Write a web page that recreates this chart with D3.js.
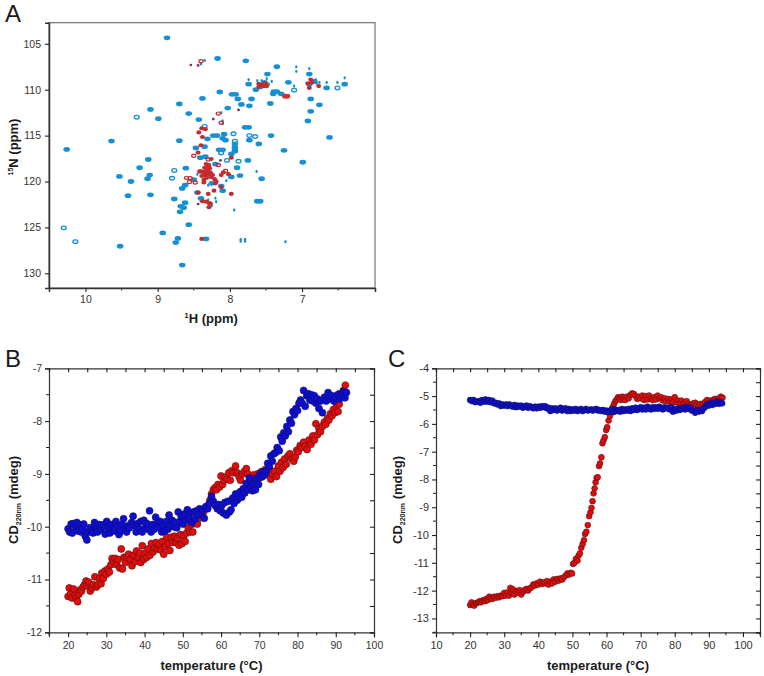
<!DOCTYPE html>
<html><head><meta charset="utf-8">
<script src="https://cdn.jsdelivr.net/npm/d3@7"></script>
<style>
html,body{margin:0;padding:0;background:#fff;}
svg{display:block;font-family:"Liberation Sans",Arial,sans-serif;}
</style></head><body>
<svg id="fig" width="764" height="676" viewBox="0 0 764 676"></svg>
<script>
// ---------- Panel A: peak positions [1H ppm, 15N ppm] ----------
const bluePeaks=[[8.87,104.35],[8.17,106.6],[7.78,106.85],[7.35,107.5],[6.9,108.3],[7.48,108.3],[7.19,109.2],[7.74,109.4],[6.66,109.8],[6.41,109.4],[7.64,110],[7.58,109.7],[7.39,110.2],[7.35,110.2],[7.4,110.45],[7.29,110.45],[8.14,110.25],[7.97,110.5],[7.92,110.5],[7.89,111],[7.7,111],[8.38,110.95],[8.7,111.55],[7.84,111.6],[7.73,111.75],[7.44,111.5],[8.03,112],[9.1,112.15],[6.88,111],[6.76,111.65],[6.88,112.35],[8.57,112.6],[8.99,113.15],[8.43,113.25],[6.92,113.4],[7.79,114.1],[7.74,114.1],[6.62,115.2],[7.43,115],[7.73,115.5],[7.6,115.9],[8.08,114.85],[8.23,115],[8.18,115],[8.31,115.35],[8.1,115.3],[8.06,115.5],[8.7,115.55],[9.64,115.6],[7.93,115.9],[7.93,116.3],[7.93,116.7],[10.26,116.5],[7.25,116.6],[6.99,117.9],[8.35,116.2],[8.47,116.35],[8.15,116.55],[8.1,116.55],[7.98,117],[9.13,117.6],[8.41,117.4],[8.34,117.3],[7.75,117.7],[7.9,118.5],[9.25,118.5],[8.61,118.55],[9.11,119.3],[9.53,119.45],[9.14,119.7],[9.37,120],[7.86,119.35],[7.56,119.7],[7.98,119.5],[8.66,120.75],[8.62,120.4],[9.1,121.45],[9.41,121.55],[8.77,121.9],[8.4,121.85],[7.62,122.15],[7.58,122.15],[8.62,122.3],[8.68,122.7],[8.64,122.85],[8.69,123.3],[8.57,124.7],[8.93,125.6],[8.72,126.2],[8.75,126.65],[8.33,126.25],[9.52,127.05],[8.66,129.1],[8.12,120.5],[8.25,120.2],[8.45,121.2],[8.5,119.8],[8.2,118.1],[8.1,121],[8.32,118.9],[7.52,109.2],[6.9,109.4],[6.83,109.1]];
const blueRings=[[9.29,113],[7.95,114.8],[7.65,115.1],[7.73,115],[8.12,116.9],[8.04,117.7],[7.88,117.8],[8.77,118.8],[8.8,119.65],[10.3,125.05],[10.14,126.55],[7.11,110.05],[6.51,109.8],[7.93,115.6],[7.93,116.5],[8.35,114]];
const blueSmall=[[7.08,107.5],[7.08,108],[6.9,107.7],[7.74,108.9],[7.49,108.8],[6.66,109.2],[6.51,109.2],[6.41,108.7],[7.11,109.6],[6.81,108.9],[6.8,109.3],[6.76,109.2],[7.42,109.1],[7.46,109.4],[7.56,109],[7.62,109],[8.19,122.2],[7.94,123.1],[7.63,118.9],[7.23,126.55],[7.85,126.3],[7.85,126.5],[7.79,126.3],[7.79,126.5],[8.4,107.2],[8.35,106.8],[8.1,113.4],[8.1,113.7],[8.12,112.5],[8.3,122],[8.25,122.6],[8.2,121.8],[8.45,119.2],[8.05,119.9],[8.3,120.4]];
const redPeaks=[[7.6,109.7],[7.55,109.45],[7.51,109.3],[7.49,109.6],[7.6,109.35],[7.53,109.6],[6.92,109.3],[6.9,109.8],[6.77,109.6],[6.88,108.9],[6.86,109.2],[8.39,114.2],[8.34,114.3],[8.43,114.65],[8.38,115.15],[8.4,116.05],[8.44,116.85],[8.26,117.55],[7.98,117.4],[8.33,118.1],[8.29,118.2],[8.35,118.5],[8.28,118.55],[8.32,118.8],[8.37,118.95],[8.27,119],[8.3,119.2],[8.35,119.3],[8.39,119.4],[8.26,119.5],[8.32,119.6],[8.36,119.8],[8.21,119.75],[8.19,120],[8.09,119],[8.02,119.2],[8.12,119.3],[8.42,118.9],[8.3,121.35],[8.33,122.2],[8.38,122.15],[8.29,122.35],[8.27,122.4],[8.29,122.8],[7.98,121.35],[8.39,126.25],[8.44,121.2],[8.22,121],[8.12,120.6],[8.2,120.2],[8.31,118.4],[8.33,119.05],[8.24,119.3],[8.36,120.1]];
const redRings=[[8.4,106.9],[8.16,112.6],[8.12,113.6],[8.5,117.2],[8.16,118.2],[8.06,118.85],[8.3,117.6],[8.6,119.6],[8.55,119.65],[8.56,120.05],[8.48,120.1],[8.4,118.9]];
const redSmall=[[8.54,107.3],[8.44,107.35],[7.88,112.2],[8.23,113.2],[8.44,122.45],[8.13,117.7]];
const redLarge=[[7.23,110.7],[7.21,110.7]];

// ---------- Panel B ----------
const bRed=[[20,-11.32],[20.3,-11.16],[20.6,-11.28],[21,-11.35],[21.4,-11.18],[21.8,-11.3],[22.1,-11.35],[22.5,-11.42],[22.8,-11.28],[23.1,-11.2],[23.5,-11.22],[23.9,-11.14],[24.3,-11.1],[24.7,-11.03],[25,-11.12],[25.4,-11.05],[25.8,-11.22],[26.2,-11.16],[26.6,-11.1],[27,-10.95],[27.4,-11.14],[27.8,-11.1],[28.2,-10.98],[28.6,-11.08],[28.8,-10.88],[29.2,-10.98],[29.6,-10.84],[30,-10.9],[30.4,-10.8],[30.8,-10.86],[31.2,-10.72],[31.5,-10.6],[31.9,-10.66],[32.3,-10.6],[32.7,-10.72],[33.1,-10.62],[33.5,-10.78],[33.9,-10.42],[34.2,-10.8],[34.6,-10.58],[35,-10.68],[35.4,-10.58],[35.8,-10.52],[36.2,-10.62],[36.7,-10.74],[37.1,-10.54],[37.5,-10.66],[37.9,-10.46],[38.3,-10.58],[38.7,-10.5],[39,-10.68],[39.4,-10.36],[39.8,-10.62],[40.2,-10.5],[40.6,-10.58],[41,-10.42],[41.4,-10.54],[41.8,-10.32],[42.2,-10.48],[42.6,-10.4],[43,-10.3],[43.4,-10.42],[43.8,-10.34],[44.2,-10.44],[44.6,-10.28],[45,-10.52],[45.4,-10.38],[45.8,-10.2],[46.2,-10.32],[46.6,-10.45],[47,-10.2],[47.4,-10.3],[47.8,-10.18],[48.2,-10.3],[48.6,-10.22],[49,-10.35],[49.4,-10.15],[49.8,-10.32],[50.2,-10.18],[50.6,-10.28],[51,-10.12],[51.4,-10.02],[51.8,-10.1],[52.2,-9.96],[52.6,-10.1],[53,-9.94],[53.4,-9.88],[53.8,-9.95],[54.2,-9.84],[54.8,-9.78],[55.4,-9.72],[56,-9.66],[56.6,-9.6],[57.1,-9.5],[57.5,-9.38],[58,-9.3],[58.4,-9.26],[58.8,-9.3],[59.2,-9.2],[59.6,-9.25],[60,-9.04],[60.4,-9.2],[60.8,-9.12],[61.2,-9.06],[61.6,-9.1],[62,-8.98],[62.4,-9.12],[62.8,-8.94],[63.2,-8.98],[63.8,-8.85],[64.2,-8.98],[64.7,-9.05],[65.1,-9.12],[65.6,-9],[66.1,-8.95],[66.6,-8.9],[67,-9],[67.5,-9.15],[68,-9.08],[68.5,-9.02],[69,-9.1],[69.5,-9],[70,-9.08],[70.5,-8.96],[71,-9.04],[71.5,-8.92],[72,-8.98],[72.5,-8.88],[73,-9.1],[73.5,-9],[74,-8.95],[74.5,-9.05],[75,-8.85],[75.4,-8.95],[75.8,-8.78],[76.2,-8.88],[76.6,-8.72],[77,-8.82],[77.5,-8.66],[78,-8.62],[78.5,-8.72],[79,-8.76],[79.4,-8.68],[79.8,-8.55],[80.2,-8.58],[80.7,-8.46],[81.1,-8.5],[81.6,-8.4],[82,-8.48],[82.5,-8.54],[83,-8.36],[83.5,-8.44],[84,-8.28],[84.4,-8.36],[84.8,-8.05],[85.2,-8.26],[85.6,-8.14],[86,-8.2],[86.5,-8.1],[87,-8.02],[87.4,-8.06],[87.8,-7.95],[88.2,-7.98],[88.6,-7.86],[89,-7.9],[89.4,-7.78],[89.8,-7.84],[90.2,-7.68],[90.6,-7.82],[90.9,-7.68],[90.4,-7.52],[91,-7.48],[91.5,-7.5],[92,-7.42],[92.5,-7.32]];
const bBlue=[[20,-10.04],[20.4,-10.1],[20.8,-9.95],[21.1,-10.12],[21.5,-9.94],[21.9,-10],[22.3,-9.92],[22.6,-10.08],[23,-9.96],[23.4,-10.1],[23.8,-10.05],[24.1,-9.95],[24.5,-10.18],[24.9,-10.25],[25.3,-10.1],[25.7,-10.02],[26.1,-10.08],[26.5,-10.12],[26.9,-9.92],[27.3,-10],[27.7,-10.1],[28.1,-9.96],[28.5,-10.06],[28.9,-10],[29.3,-9.96],[29.7,-10.14],[30.1,-9.9],[30.5,-10.02],[30.9,-10.12],[31.3,-9.96],[31.7,-10.04],[32.1,-10.08],[32.5,-9.9],[32.9,-10],[33.3,-10.15],[33.7,-10.08],[34.1,-9.96],[34.5,-9.85],[34.9,-10.06],[35.3,-10.1],[35.7,-9.98],[36.1,-10.02],[36.6,-9.92],[37,-9.8],[37.4,-9.98],[37.8,-10.1],[38.2,-9.94],[38.6,-10.04],[39,-9.9],[39.4,-10.1],[39.8,-9.88],[40.2,-10.02],[40.6,-9.94],[41,-10.05],[41.3,-9.7],[41.7,-10.1],[42.1,-9.96],[42.5,-10.05],[42.9,-9.82],[43.3,-9.94],[43.7,-10.02],[44.1,-9.9],[44.5,-10.1],[44.9,-9.98],[45.3,-10.08],[45.7,-9.9],[46.1,-10.05],[46.4,-9.78],[46.8,-9.98],[47.2,-9.88],[47.6,-10],[48,-9.92],[48.4,-10.02],[48.8,-9.72],[49.2,-9.9],[49.6,-9.8],[50,-9.95],[50.4,-9.76],[50.8,-9.88],[51.2,-9.68],[51.6,-9.84],[52,-9.74],[52.4,-9.92],[52.8,-9.72],[53.2,-9.86],[53.6,-9.7],[54,-9.78],[54.4,-9.66],[54.8,-9.74],[55.2,-9.68],[55.6,-9.84],[56,-9.62],[56.5,-9.66],[57,-9.55],[57.5,-9.43],[58,-9.52],[58.5,-9.6],[59,-9.66],[59.4,-9.58],[59.8,-9.7],[60.2,-9.6],[60.6,-9.74],[61,-9.54],[61.4,-9.78],[61.8,-9.52],[62.2,-9.72],[62.6,-9.68],[63,-9.46],[63.4,-9.56],[63.8,-9.38],[64.2,-9.5],[64.6,-9.46],[65,-9.34],[65.4,-9.44],[65.8,-9.28],[66.2,-9.36],[66.6,-9.18],[67,-9.3],[67.4,-9.08],[67.8,-9.24],[68.2,-9.32],[68.6,-9.18],[69,-9.3],[69.4,-9.08],[69.8,-9.2],[70.2,-9],[70.6,-9.06],[71,-8.96],[71.4,-9.02],[71.8,-8.94],[72.2,-8.8],[72.6,-8.86],[73,-8.66],[73.4,-8.76],[73.8,-8.62],[74.2,-8.6],[74.7,-8.5],[75.2,-8.56],[75.6,-8.3],[76,-8.38],[76.4,-8.22],[76.8,-8.28],[77.2,-8.1],[77.6,-8.2],[78,-7.98],[78.4,-8.04],[78.8,-7.82],[79.2,-7.88],[79.6,-7.76],[80,-7.8],[80.4,-7.66],[80.8,-7.6],[81.2,-7.66],[81.6,-7.42],[82,-7.72],[82.4,-7.52],[82.8,-7.48],[83.2,-7.6],[83.6,-7.5],[84,-7.62],[84.4,-7.52],[84.8,-7.66],[85.2,-7.58],[85.6,-7.76],[86,-7.62],[86.5,-7.84],[87,-7.55],[87.5,-7.62],[88,-7.46],[88.5,-7.58],[89,-7.52],[89.5,-7.62],[90,-7.56],[90.5,-7.5],[91,-7.58],[91.5,-7.52],[92,-7.44],[92.4,-7.56],[92.8,-7.46]];

// ---------- Panel C ----------
const cRed=[[20,-12.52],[20.4,-12.42],[20.8,-12.5],[21.2,-12.54],[21.6,-12.46],[22,-12.44],[22.4,-12.42],[22.8,-12.38],[23.2,-12.42],[23.6,-12.36],[24,-12.34],[24.4,-12.38],[24.8,-12.3],[25.2,-12.34],[25.6,-12.22],[26,-12.28],[26.5,-12.3],[27,-12.22],[27.5,-12.26],[28,-12.2],[28.5,-12.24],[29,-12.18],[29.5,-12.2],[30,-12.08],[30.5,-12.18],[31,-12.06],[31.4,-12.18],[31.8,-11.9],[32.2,-12.08],[32.6,-11.96],[33,-12.14],[33.5,-12.02],[34,-12.08],[34.5,-11.98],[35,-12.14],[35.5,-12.04],[36,-11.98],[36.5,-11.94],[37,-12],[37.5,-11.92],[38,-11.88],[38.5,-11.78],[39,-11.82],[39.5,-11.74],[40,-11.78],[40.5,-11.68],[41,-11.76],[41.5,-11.7],[42,-11.74],[42.5,-11.66],[43,-11.78],[43.5,-11.68],[44,-11.74],[44.5,-11.6],[45,-11.68],[45.5,-11.58],[46,-11.64],[46.5,-11.56],[47,-11.6],[47.5,-11.52],[48,-11.46],[48.5,-11.38],[49,-11.42],[49.5,-11.36],[49.9,-11.38],[50.2,-11.04],[50.6,-11],[51,-10.86],[51.5,-10.92],[51.8,-10.74],[52.2,-10.66],[52.6,-10.46],[53,-10.32],[53.4,-10.18],[53.7,-9.96],[54.1,-9.88],[54.5,-9.64],[54.9,-9.32],[55.3,-9.18],[55.6,-9.02],[55.9,-8.78],[56.2,-8.5],[56.5,-8.32],[56.8,-8.1],[57.1,-7.94],[57.4,-7.92],[57.8,-7.52],[58.1,-7.42],[58.5,-7.2],[58.8,-6.7],[59.1,-6.6],[59.5,-6.48],[59.9,-6.22],[60.2,-6.12],[60.6,-5.88],[61,-5.72],[61.4,-5.5],[61.8,-5.4],[62.2,-5.28],[62.6,-5.18],[63,-5.12],[63.4,-5.04],[63.8,-5.08],[64.2,-5.14],[64.6,-5.02],[65,-5.1],[65.5,-5.14],[66,-5.02],[66.5,-5.08],[67,-4.96],[67.5,-4.9],[68,-4.92],[68.5,-5],[69,-5.1],[69.5,-5.02],[70,-5.08],[70.5,-4.98],[71,-5.14],[71.5,-5],[72,-5.12],[72.5,-4.98],[73,-5.08],[73.5,-5.14],[74,-5.04],[74.5,-5.12],[75,-4.98],[75.5,-5.08],[76,-5.04],[76.5,-5.16],[77,-5.08],[77.5,-5.18],[78,-5.1],[78.5,-5.2],[79,-5.12],[79.5,-5.22],[80,-5.04],[80.5,-5.22],[81,-5.16],[81.5,-5.26],[82,-5.16],[82.5,-5.28],[83,-5.22],[83.5,-5.18],[84,-5.28],[84.5,-5.34],[85,-5.3],[85.5,-5.26],[86,-5.24],[86.5,-5.3],[87,-5.36],[87.5,-5.28],[88,-5.32],[88.5,-5.26],[89,-5.2],[89.5,-5.14],[90,-5.22],[90.5,-5.16],[91,-5.18],[91.5,-5.12],[92,-5.1],[92.5,-5.14],[93,-5.08],[93.5,-5.02],[94,-5.06]];
const cBlue=[[20,-5.14],[20.5,-5.18],[21,-5.14],[21.5,-5.22],[22,-5.2],[22.5,-5.18],[23,-5.24],[23.5,-5.14],[24,-5.2],[24.5,-5.12],[25,-5.2],[25.5,-5.14],[26,-5.22],[26.5,-5.16],[27,-5.26],[27.5,-5.24],[28,-5.3],[28.5,-5.26],[29,-5.36],[29.5,-5.3],[30,-5.34],[30.5,-5.3],[31,-5.36],[31.5,-5.3],[32,-5.34],[32.5,-5.38],[33,-5.32],[33.5,-5.4],[34,-5.34],[34.5,-5.38],[35,-5.34],[35.5,-5.42],[36,-5.38],[36.5,-5.34],[37,-5.42],[37.5,-5.36],[38,-5.4],[38.5,-5.44],[39,-5.38],[39.5,-5.44],[40,-5.38],[40.5,-5.42],[41,-5.36],[41.5,-5.4],[42,-5.36],[42.5,-5.44],[43,-5.42],[43.5,-5.54],[44,-5.44],[44.5,-5.5],[45,-5.44],[45.5,-5.52],[46,-5.46],[46.5,-5.42],[47,-5.52],[47.5,-5.46],[48,-5.44],[48.5,-5.54],[49,-5.46],[49.5,-5.54],[50,-5.48],[50.5,-5.52],[51,-5.46],[51.5,-5.54],[52,-5.5],[52.5,-5.46],[53,-5.54],[53.5,-5.5],[54,-5.46],[54.5,-5.52],[55,-5.5],[55.5,-5.48],[56,-5.52],[56.5,-5.48],[57,-5.46],[57.5,-5.52],[58,-5.5],[58.5,-5.54],[59,-5.5],[59.5,-5.56],[60,-5.52],[60.5,-5.58],[61,-5.54],[61.5,-5.48],[62,-5.58],[62.5,-5.48],[63,-5.54],[63.5,-5.5],[64,-5.56],[64.5,-5.46],[65,-5.54],[65.5,-5.48],[66,-5.52],[66.5,-5.46],[67,-5.54],[67.5,-5.44],[68,-5.5],[68.5,-5.42],[69,-5.5],[69.5,-5.44],[70,-5.4],[70.5,-5.48],[71,-5.42],[71.5,-5.48],[72,-5.38],[72.5,-5.44],[73,-5.48],[73.5,-5.4],[74,-5.46],[74.5,-5.4],[75,-5.46],[75.5,-5.38],[76,-5.44],[76.5,-5.48],[77,-5.4],[77.5,-5.44],[78,-5.42],[78.5,-5.48],[79,-5.4],[79.5,-5.56],[80,-5.46],[80.5,-5.52],[81,-5.44],[81.5,-5.5],[82,-5.46],[82.5,-5.42],[83,-5.48],[83.5,-5.4],[84,-5.46],[84.5,-5.42],[85,-5.52],[85.5,-5.5],[86,-5.6],[86.5,-5.5],[87,-5.56],[87.5,-5.5],[88,-5.54],[88.5,-5.44],[89,-5.38],[89.5,-5.3],[90,-5.34],[90.5,-5.26],[91,-5.32],[91.5,-5.24],[92,-5.28],[92.5,-5.2],[93,-5.28],[93.5,-5.22],[93.9,-5.26]];

const aXTicks=[10,9,8,7], aXMinor=[9.5,8.5,7.5,6.5];
const aYTicks=[105,110,115,120,125,130];
const bXTicks=[20,30,40,50,60,70,80,90,100], bYTicks=[-7,-8,-9,-10,-11,-12];
const cXTicks=[10,20,30,40,50,60,70,80,90,100], cYTicks=[-4,-5,-6,-7,-8,-9,-10,-11,-12,-13];

const svg=d3.select("#fig");
const defs=svg.append("defs");
defs.append("filter").attr("id","soft").attr("x","-5%").attr("y","-5%").attr("width","110%").attr("height","110%")
  .append("feGaussianBlur").attr("stdDeviation",0.5);
defs.append("filter").attr("id","softer").attr("x","-5%").attr("y","-5%").attr("width","110%").attr("height","110%")
  .append("feGaussianBlur").attr("stdDeviation",0.35);

const INK="#333", TXT="#333";
function label(x,y,t,size,extra){
  return svg.append("text").attr("x",x).attr("y",y).attr("font-size",size).attr("fill",extra&&extra.fill||"#1a1a1a")
   .attr("font-weight",extra&&extra.weight||"normal").attr("text-anchor",extra&&extra.anchor||"start").text(t);
}
function styleAxis(g,fs,w){
  g.select(".domain").attr("stroke",INK).attr("stroke-width",w);
  g.selectAll("line").attr("stroke","#222").attr("stroke-width",1.1);
  g.selectAll("text").attr("font-size",fs).attr("fill",TXT).attr("font-family",'"Liberation Sans",Arial,sans-serif');
}

// ---------- Panel A ----------
(function(){
  const x=d3.scaleLinear().domain([10.505,5.99]).range([49,375]);
  const y=d3.scaleLinear().domain([102.7,131.6]).range([22.7,288]);
  svg.append("rect").attr("x",x.range()[0]).attr("y",y.range()[0]).attr("width",326).attr("height",265.3)
     .attr("fill","none").attr("stroke","#666").attr("stroke-width",1.1);
  const g=svg.append("g").attr("filter","url(#soft)");
  const BL="#1690d2", RD="#c42a2e";
  g.selectAll(".bp").data(bluePeaks).join("ellipse").attr("cx",d=>x(d[0])).attr("cy",d=>y(d[1])).attr("rx",3.3).attr("ry",2.4).attr("fill",BL);
  g.selectAll(".br").data(blueRings).join("ellipse").attr("cx",d=>x(d[0])).attr("cy",d=>y(d[1])).attr("rx",2.5).attr("ry",1.8).attr("fill","none").attr("stroke",BL).attr("stroke-width",1.3);
  g.selectAll(".bs").data(blueSmall).join("ellipse").attr("cx",d=>x(d[0])).attr("cy",d=>y(d[1])).attr("rx",1.2).attr("ry",1.6).attr("fill",BL);
  g.selectAll(".rp").data(redPeaks).join("ellipse").attr("cx",d=>x(d[0])).attr("cy",d=>y(d[1])).attr("rx",2.5).attr("ry",2.1).attr("fill",RD);
  g.selectAll(".rr").data(redRings).join("ellipse").attr("cx",d=>x(d[0])).attr("cy",d=>y(d[1])).attr("rx",2.1).attr("ry",1.6).attr("fill","none").attr("stroke",RD).attr("stroke-width",1.2);
  g.selectAll(".rs").data(redSmall).join("ellipse").attr("cx",d=>x(d[0])).attr("cy",d=>y(d[1])).attr("rx",1.4).attr("ry",1.3).attr("fill","#8a2a55");
  g.selectAll(".rl").data(redLarge).join("ellipse").attr("cx",d=>x(d[0])).attr("cy",d=>y(d[1])).attr("rx",3.4).attr("ry",2.4).attr("fill","#d0302c");

  const xa=svg.append("g").attr("transform","translate(0,288)").call(d3.axisBottom(x).tickValues(aXTicks).tickFormat(d3.format("d")).tickSize(4).tickPadding(4));
  styleAxis(xa,10.5,1.5);
  xa.selectAll(".mn").data(aXMinor).join("line").attr("class","mn").attr("x1",d=>x(d)).attr("x2",d=>x(d)).attr("y1",0).attr("y2",2.5).attr("stroke","#333");
  const ya=svg.append("g").attr("transform","translate(49,0)").call(d3.axisLeft(y).tickValues(aYTicks).tickFormat(d3.format("d")).tickSize(4).tickPadding(4));
  styleAxis(ya,10.5,1.5);
  const t1=label(211,323,"",13,{weight:"bold",anchor:"middle"});
  t1.append("tspan").attr("font-size",8).attr("dy",-5).text("1");
  t1.append("tspan").attr("dy",5).text("H (ppm)");
  const t2=svg.append("text").attr("transform","translate(18,147) rotate(-90)").attr("text-anchor","middle").attr("font-weight","bold").attr("font-size",13).attr("fill","#1a1a1a");
  t2.append("tspan").attr("font-size",7).attr("dy",-5).text("15");
  t2.append("tspan").attr("dy",5).text("N (ppm)");
  label(5,22,"A",24);
})();

// ---------- Panels B / C ----------
function cdPanel(o){
  const x=d3.scaleLinear().domain(o.xd).range([o.l,o.r]);
  const y=d3.scaleLinear().domain(o.yd).range([368.3,632.3]);
  const g=svg.append("g").attr("filter","url(#softer)");
  [[o.red,"#e00a0c"],[o.blue,"#0a0ad6"]].forEach(([data,col])=>{
    g.append("g").selectAll("circle").data(data).join("circle").attr("cx",d=>x(d[0])).attr("cy",d=>y(d[1])).attr("r",o.rad)
      .attr("fill",col).attr("stroke",col==="#e00a0c"?"#5a0a0a":"#0a0a55").attr("stroke-width",0.6);
  });
  const xa=svg.append("g").attr("transform","translate(0,632.3)").call(d3.axisBottom(x).tickValues(o.xt).tickFormat(d3.format("d")).tickSize(5).tickPadding(4));
  styleAxis(xa,o.fs,1.2);
  const ya=svg.append("g").attr("transform",`translate(${o.l},0)`).call(d3.axisLeft(y).tickValues(o.yt).tickFormat(d=>d3.format("d")(d).replace("\u2212","-")).tickSize(4).tickPadding(3));
  styleAxis(ya,o.fs,1.2);
  const top=svg.append("g").attr("transform","translate(0,368.3)").call(d3.axisBottom(x).tickValues(o.xt.concat(o.xm)).tickFormat("").tickSize(4));
  styleAxis(top,o.fs,1.2);
  const right=svg.append("g").attr("transform",`translate(${o.r},0)`).call(d3.axisLeft(y).tickValues(o.yt.concat(o.ym)).tickFormat("").tickSize(4));
  styleAxis(right,o.fs,1.2);
  svg.append("g").selectAll("line").data(o.xm).join("line").attr("x1",d=>x(d)).attr("x2",d=>x(d)).attr("y1",632.3).attr("y2",635.3).attr("stroke","#222");
  svg.append("g").selectAll("line").data(o.ym).join("line").attr("x1",o.l-3).attr("x2",o.l).attr("y1",d=>y(d)).attr("y2",d=>y(d)).attr("stroke","#222");
  label((o.l+o.r)/2,670,"temperature (\u00b0C)",13,{weight:"bold",anchor:"middle"});
  const t=svg.append("text").attr("transform",`translate(${o.yl},500) rotate(-90)`).attr("text-anchor","middle").attr("font-weight","bold").attr("font-size",13).attr("fill","#1a1a1a");
  t.append("tspan").text("CD");
  t.append("tspan").attr("font-size",7).attr("dy",2.5).text("220nm");
  t.append("tspan").attr("dy",-2.5).text(" (mdeg)");
  label(o.lx,367,o.letter,24);
}
cdPanel({l:49,r:374,xd:[15,100],yd:[-7,-12],xt:bXTicks,yt:bYTicks,xm:[15,25,35,45,55,65,75,85,95],ym:[-7.5,-8.5,-9.5,-10.5,-11.5],red:bRed,blue:bBlue,rad:3.5,fs:10.5,yl:18,lx:5,letter:"B"});
cdPanel({l:436,r:760,xd:[10,105],yd:[-4,-13.5],xt:cXTicks,yt:cYTicks,xm:[15,25,35,45,55,65,75,85,95,105],ym:[-4.5,-5.5,-6.5,-7.5,-8.5,-9.5,-10.5,-11.5,-12.5,-13.5],red:cRed,blue:cBlue,rad:2.9,fs:11,yl:402,lx:388,letter:"C"});
</script>
</body></html>
